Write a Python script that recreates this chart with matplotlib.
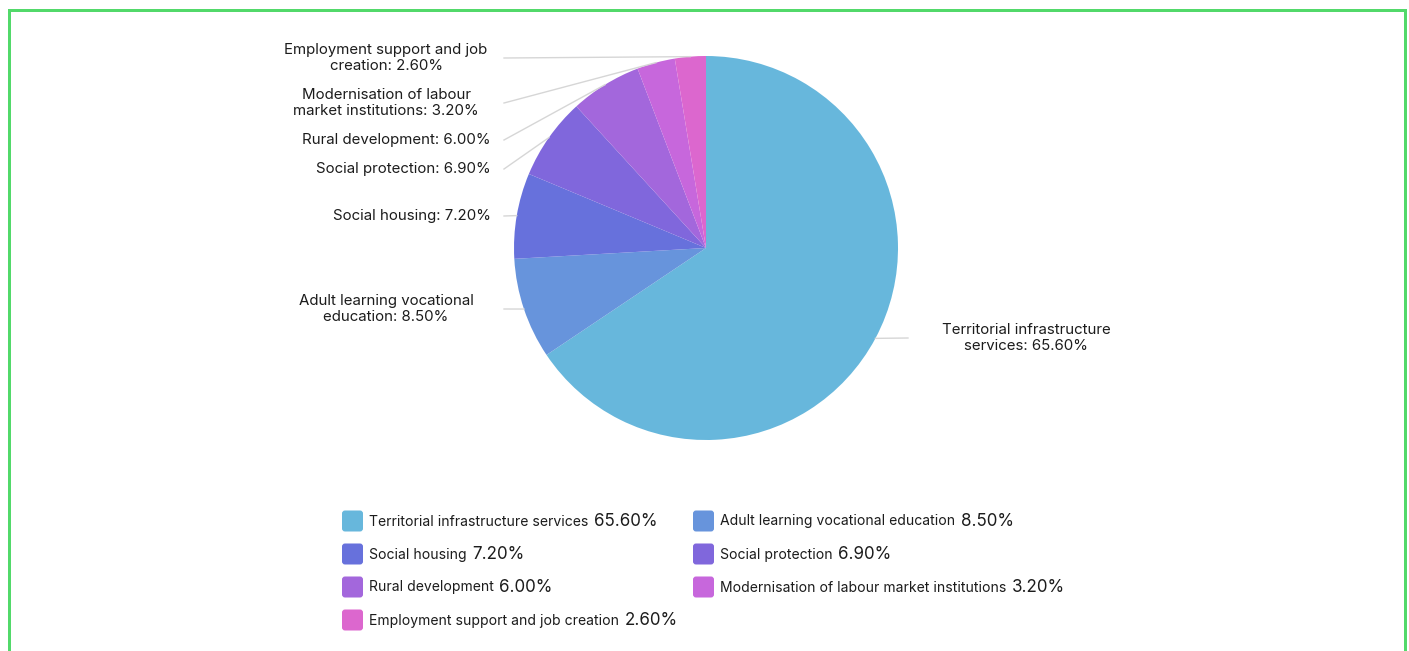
import numpy as np
import matplotlib
matplotlib.use('Agg')
import matplotlib.pyplot as plt
from matplotlib.patches import FancyBboxPatch, Rectangle

W, H = 1409, 651
dpi = 100

plt.rcParams['font.family'] = ['Inter', 'DejaVu Sans']

# slice data
categories = [
    'Territorial infrastructure services',
    'Adult learning vocational education',
    'Social housing',
    'Social protection',
    'Rural development',
    'Modernisation of labour market institutions',
    'Employment support and job creation',
]
shares = [65.6, 8.5, 7.2, 6.9, 6.0, 3.2, 2.6]
slice_labels = [
    'Territorial infrastructure\nservices: 65.60%',
    'Adult learning vocational\neducation: 8.50%',
    'Social housing: 7.20%',
    'Social protection: 6.90%',
    'Rural development: 6.00%',
    'Modernisation of labour\nmarket institutions: 3.20%',
    'Employment support and job\ncreation: 2.60%',
]
colors = ['#67b7dc', '#6794dc', '#6771dc', '#8067dc', '#a367dc', '#c767dc', '#dc67ce']

# layout in pixels (y measured from top)
cx, cy, r = 706, 248, 192
label_y = [338, 309, 216, 169, 140, 103, 58]

def py(y):
    return H - y

fig = plt.figure(figsize=(W / dpi, H / dpi), dpi=dpi)
fig.patch.set_facecolor('white')
ax = fig.add_axes([0, 0, 1, 1])
ax.set_xlim(0, W)
ax.set_ylim(0, H)
ax.axis('off')

wedges, _ = ax.pie(shares, colors=colors, startangle=90, counterclock=False,
                   center=(cx, py(cy)), radius=r, wedgeprops=dict(linewidth=0))
ax.set_xlim(0, W)
ax.set_ylim(0, H)
ax.set_aspect('auto')

line_col = '#d6d6d6'
txt_col = '#1c1c1c'
fs_lab = 15 * 0.72
for w, lab, ly in zip(wedges, slice_labels, label_y):
    mid = np.deg2rad((w.theta1 + w.theta2) / 2)
    ex = cx + r * np.cos(mid)
    ey = py(cy) + r * np.sin(mid)
    if ex > cx:
        ax.plot([ex, 908], [ey, py(ly)], color=line_col, lw=1)
        ax.text(1026, py(ly), lab, ha='center', va='center', fontsize=fs_lab,
                color=txt_col, multialignment='center', linespacing=1.2)
    else:
        ax.plot([504, ex], [py(ly), ey], color=line_col, lw=1)
        if '\n' in lab:
            ax.text(386, py(ly), lab, ha='center', va='center', fontsize=fs_lab,
                    color=txt_col, multialignment='center', linespacing=1.2)
        else:
            ax.text(491, py(ly), lab, ha='right', va='center', fontsize=fs_lab,
                    color=txt_col)

# legend, two columns
col_x = [342, 693]
row_y = [521, 554, 587, 620]
sq = 21
for i, (name, val, c) in enumerate(zip(categories, shares, colors)):
    x0 = col_x[i % 2]
    y0 = row_y[i // 2]
    ax.add_patch(FancyBboxPatch((x0 + 2, py(y0) - sq / 2 + 2), sq - 4, sq - 4,
                                boxstyle='round,pad=2,rounding_size=3',
                                facecolor=c, edgecolor='none'))
    t = ax.text(x0 + 27, py(y0) - 0.5, name, ha='left', va='center',
                fontsize=14 * 0.72, color=txt_col)
    ax.annotate(f'{val:.2f}%', xy=(1, 0.5), xycoords=t, xytext=(4, 0),
                textcoords='offset points', ha='left', va='center',
                fontsize=17 * 0.72, color=txt_col)

# outer frame
ax.add_patch(Rectangle((8.5, -20), W - 13, py(9.5) + 20, fill=False,
                       edgecolor='#52d96a', lw=3 * 0.72, clip_on=False))

fig.savefig('out.png', dpi=dpi, facecolor='white')
